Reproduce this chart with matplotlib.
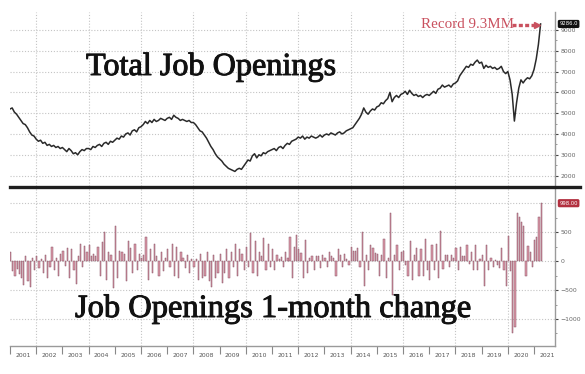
import numpy as np
import matplotlib
matplotlib.use("Agg")
import matplotlib.pyplot as plt
from matplotlib.lines import Line2D
from matplotlib import transforms
import matplotlib.patheffects as pe

# ---------------- data (monthly, Jan 2001 .. Apr 2021) ----------------
openings = [
    # 2001
    5200, 5250, 5050, 4950, 4800, 4650, 4500, 4450, 4300, 4100, 3950, 3900,
    # 2002
    3750, 3650, 3700, 3550, 3600, 3450, 3500, 3400, 3450, 3350, 3400, 3300,
    # 2003
    3350, 3250, 3150, 3300, 3200, 3050, 3100, 3000, 3150, 3250, 3200, 3300,
    # 2004
    3300, 3250, 3400, 3350, 3450, 3500, 3400, 3550, 3600, 3500, 3650, 3600,
    # 2005
    3700, 3800, 3750, 3900, 3850, 4000, 4050, 3950, 4150, 4200, 4100, 4300,
    # 2006
    4350, 4450, 4600, 4500, 4650, 4550, 4700, 4600, 4650, 4750, 4700, 4650,
    # 2007
    4750, 4800, 4700, 4900, 4800, 4750, 4650, 4700, 4650, 4600, 4650, 4550,
    # 2008
    4550, 4450, 4300, 4150, 4100, 3950, 3800, 3600, 3400, 3250, 3050, 2900,
    # 2009
    2800, 2700, 2550, 2450, 2350, 2300, 2250, 2200, 2300, 2350, 2300, 2450,
    # 2010
    2600, 2750, 2700, 2950, 3050, 2850, 3000, 2950, 3100, 3050, 3150, 3200,
    # 2011
    3250, 3300, 3200, 3350, 3400, 3300, 3450, 3550, 3500, 3650, 3700, 3750,
    # 2012
    3850, 3800, 3900, 3750, 3850, 3800, 3900, 3850, 3800, 3850, 3950, 3850,
    # 2013
    3950, 4000, 3950, 4050, 4000, 3950, 4050, 4100, 4000, 4050, 4150, 4200,
    # 2014
    4250, 4300, 4450, 4600, 4750, 4950, 5250, 5050, 4950, 5100, 5200, 5150,
    # 2015
    5300, 5350, 5500, 5450, 5600, 5700, 6000, 5550, 5750, 5850, 5750, 5900,
    # 2016
    5950, 6050, 5900, 6100, 5950, 5850, 5900, 5800, 5850, 5750, 5850, 5900,
    # 2017
    5850, 5950, 6050, 5950, 6150, 6200, 6350, 6250, 6300, 6350, 6250, 6400,
    # 2018
    6450, 6550, 6800, 6950, 7100, 7250, 7200, 7350, 7300, 7450, 7550, 7400,
    # 2019
    7450, 7150, 7300, 7200, 7250, 7150, 7200, 7100, 7150, 7250, 7000, 6900,
    # 2020
    7000, 6600, 5900, 4620, 5500, 6200, 6600, 6450, 6600, 6700, 6650, 6800,
    # 2021
    7100, 7600, 8300, 9286,
]

monthly_change = [
    # 2001
    150, -180, -250, -130, -220, -300, -410, 80, -350, -440, 60, -150,
    # 2002
    80, -120, 40, -200, 100, -300, -100, 250, -150, 60, -250, 120,
    # 2003
    180, -90, 220, -300, 200, -150, -400, 80, 300, -100, 260, 150,
    # 2004
    270, 90, 120, 90, 250, -250, 320, 500, -320, 150, 100, -460,
    # 2005
    610, -300, 180, 150, 120, -350, 350, 220, -200, 300, -150, 120,
    # 2006
    60, 100, 420, -330, 200, -200, 300, 80, -250, 150, -180, 50,
    # 2007
    200, -100, 300, -250, 250, -300, 150, 60, -120, 100, -200, 30,
    # 2008
    -100, 30, -320, 120, -300, -250, 150, -350, -450, 100, -300, -200,
    # 2009
    120, -380, -200, 200, -300, 160, -100, 300, -250, 200, 120, -150,
    # 2010
    250, -100, 480, -200, 350, -250, 150, 80, 400, -150, 300, -100,
    # 2011
    200, -150, 100, 30, 70, -100, 150, 50, 420, -300, 250, 450,
    # 2012
    200, 130, -290, 360, -200, 50, 80, -150, 80, 80, -120, 100,
    # 2013
    60, -100, 150, 90, 50, -250, 200, 100, -100, 120, 40, -60,
    # 2014
    240, 180, 180, 230, -100, 500, -430, 100, -150, 280, 230, 130,
    # 2015
    120, -250, 100, 380, -300, 60, 830, -590, 100, 280, -150, 150,
    # 2016
    170, -60, -250, 350, -330, 100, 220, -250, 200, -250, 380, -150,
    # 2017
    -330, 280, -150, 300, -300, 520, -130, 100, 100, -100, 100, 50,
    # 2018
    230, -150, 250, 80, 80, 280, -50, 150, -150, 270, -150, 40,
    # 2019
    100, -430, 280, -150, 50, -100, 20, -60, -120, 230, -150, -430,
    # 2020
    430, -180, -1240, -1140, 830, 760, 670, 600, -260, 260, 150, -100,
    # 2021
    360, 410, 760, 998,
]

years = list(range(2001, 2022))
year_labels = [str(y) for y in years]
top_ticks = [2000, 3000, 4000, 5000, 6000, 7000, 8000, 9000]
bottom_ticks = [-1000, -500, 0, 500]

title_top = "Total Job Openings"
title_bottom = "Job Openings 1-month change"
record_text = "Record 9.3MM"
last_level_label = "9286.0"
last_change_label = "998.00"

# ---------------- figure ----------------
dates = 2001 + np.arange(len(openings)) / 12.0

W, H = 585, 374
fig = plt.figure(figsize=(W / 100, H / 100), dpi=100)
fig.patch.set_facecolor("white")

L, R = 10, 555
ax1 = fig.add_axes([L / W, 1 - 186 / H, (R - L) / W, (186 - 12) / H])
ax2 = fig.add_axes([L / W, 1 - 346 / H, (R - L) / W, (346 - 188) / H], sharex=ax1)

grid_kw = dict(color="#c4c4c4", lw=0.8, ls=(0, (1, 1.6)), zorder=0)
tick_lab_color = "#666666"

# ---- top panel ----
ax1.plot(dates, openings, color="#2a2a2a", lw=1.1, zorder=3)
ax1.set_xlim(2001.0, 2021.8)
ax1.set_ylim(1570, 9860)
ax1.yaxis.tick_right()
ax1.set_yticks(top_ticks)
ax1.set_yticks([t + 500 for t in top_ticks[:-1]] + [1500], minor=True)
ax1.tick_params(axis="y", which="major", labelsize=4.4, labelcolor=tick_lab_color,
                length=2.5, width=0.8, color="#444444", pad=1.5)
ax1.tick_params(axis="y", which="minor", length=1.5, width=0.6, color="#888888")
ax1.tick_params(axis="x", which="both", length=0, labelbottom=False)
for s in ["left", "top", "bottom"]:
    ax1.spines[s].set_visible(False)
ax1.spines["right"].set_color("#9a9a9a")
ax1.spines["right"].set_linewidth(1.0)
for t in top_ticks:
    ax1.axhline(t, **grid_kw)
for y in years[1::2]:
    ax1.axvline(y, **grid_kw)

# ---- bottom panel ----
ax2.bar(dates, monthly_change, width=1 / 12 * 0.55, align="edge",
        color="#dc9aab", edgecolor="#8a5565", linewidth=0.35, zorder=3)
ax2.set_ylim(-1466, 1260)
ax2.yaxis.tick_right()
ax2.set_yticks(bottom_ticks)
ax2.set_yticks([-1250, -750, -250, 250, 750], minor=True)
ax2.tick_params(axis="y", which="major", labelsize=4.4, labelcolor=tick_lab_color,
                length=2.5, width=0.8, color="#444444", pad=1.5)
ax2.tick_params(axis="y", which="minor", length=1.5, width=0.6, color="#888888")
for s in ["left", "top"]:
    ax2.spines[s].set_visible(False)
for s in ["right", "bottom"]:
    ax2.spines[s].set_color("#9a9a9a")
    ax2.spines[s].set_linewidth(1.0)
for t in [-1000, -500, 0, 500, 1000]:
    ax2.axhline(t, **grid_kw)
for y in years[1::2]:
    ax2.axvline(y, **grid_kw)

ax2.set_xticks(years)
ax2.set_xticklabels([])
ax2.set_xticks([y + 0.5 for y in years], minor=True)
ax2.set_xticklabels(year_labels, minor=True)
ax2.tick_params(axis="x", which="major", length=6, width=0.8, color="#888888",
                direction="out")
ax2.tick_params(axis="x", which="minor", length=0, labelsize=4.4,
                labelcolor="#555555", pad=5)

# ---- separator line ----
fig.add_artist(Line2D([L / W, 580 / W], [1 - 186.5 / H, 1 - 186.5 / H],
                      color="#1e1e1e", lw=2.4))

# ---- titles ----
serif = ["Liberation Serif", "DejaVu Serif"]
thick = [pe.withStroke(linewidth=0.7, foreground="#111111")]
fig.text(86 / W, 1 - 75 / H, title_top, family=serif, fontsize=23.2,
         color="#111111", ha="left", va="baseline", path_effects=thick)
fig.text(75 / W, 1 - 317 / H, title_bottom, family=serif, fontsize=23.4,
         color="#111111", ha="left", va="baseline", path_effects=thick)

# ---- record annotation ----
rec_color = "#c9505e"
ax1.text(2016.7, openings[-1] - 30, record_text, family=serif, fontsize=10.8,
         color=rec_color, ha="left", va="center", zorder=5)
ax1.plot([2020.15, dates[-1] - 0.25], [openings[-1] - 40] * 2, color=rec_color,
         lw=2.4, ls=(0, (1.2, 0.7)), solid_capstyle="butt", zorder=5)
ax1.plot([dates[-1] - 0.12], [openings[-1] - 40], marker=">", ms=4.5,
         color=rec_color, zorder=5)

# ---- last value boxes ----
tr1 = transforms.blended_transform_factory(ax1.transAxes, ax1.transData)
ax1.text(1.008, openings[-1], last_level_label, transform=tr1, fontsize=3.8,
         color="white", ha="left", va="center",
         bbox=dict(boxstyle="round,pad=0.3", fc="#111111", ec="none"))
tr2 = transforms.blended_transform_factory(ax2.transAxes, ax2.transData)
ax2.text(1.008, monthly_change[-1], last_change_label, transform=tr2, fontsize=3.8,
         color="white", ha="left", va="center",
         bbox=dict(boxstyle="round,pad=0.3", fc="#b2303f", ec="none"))

fig.savefig("out.png", dpi=100, facecolor="white")
